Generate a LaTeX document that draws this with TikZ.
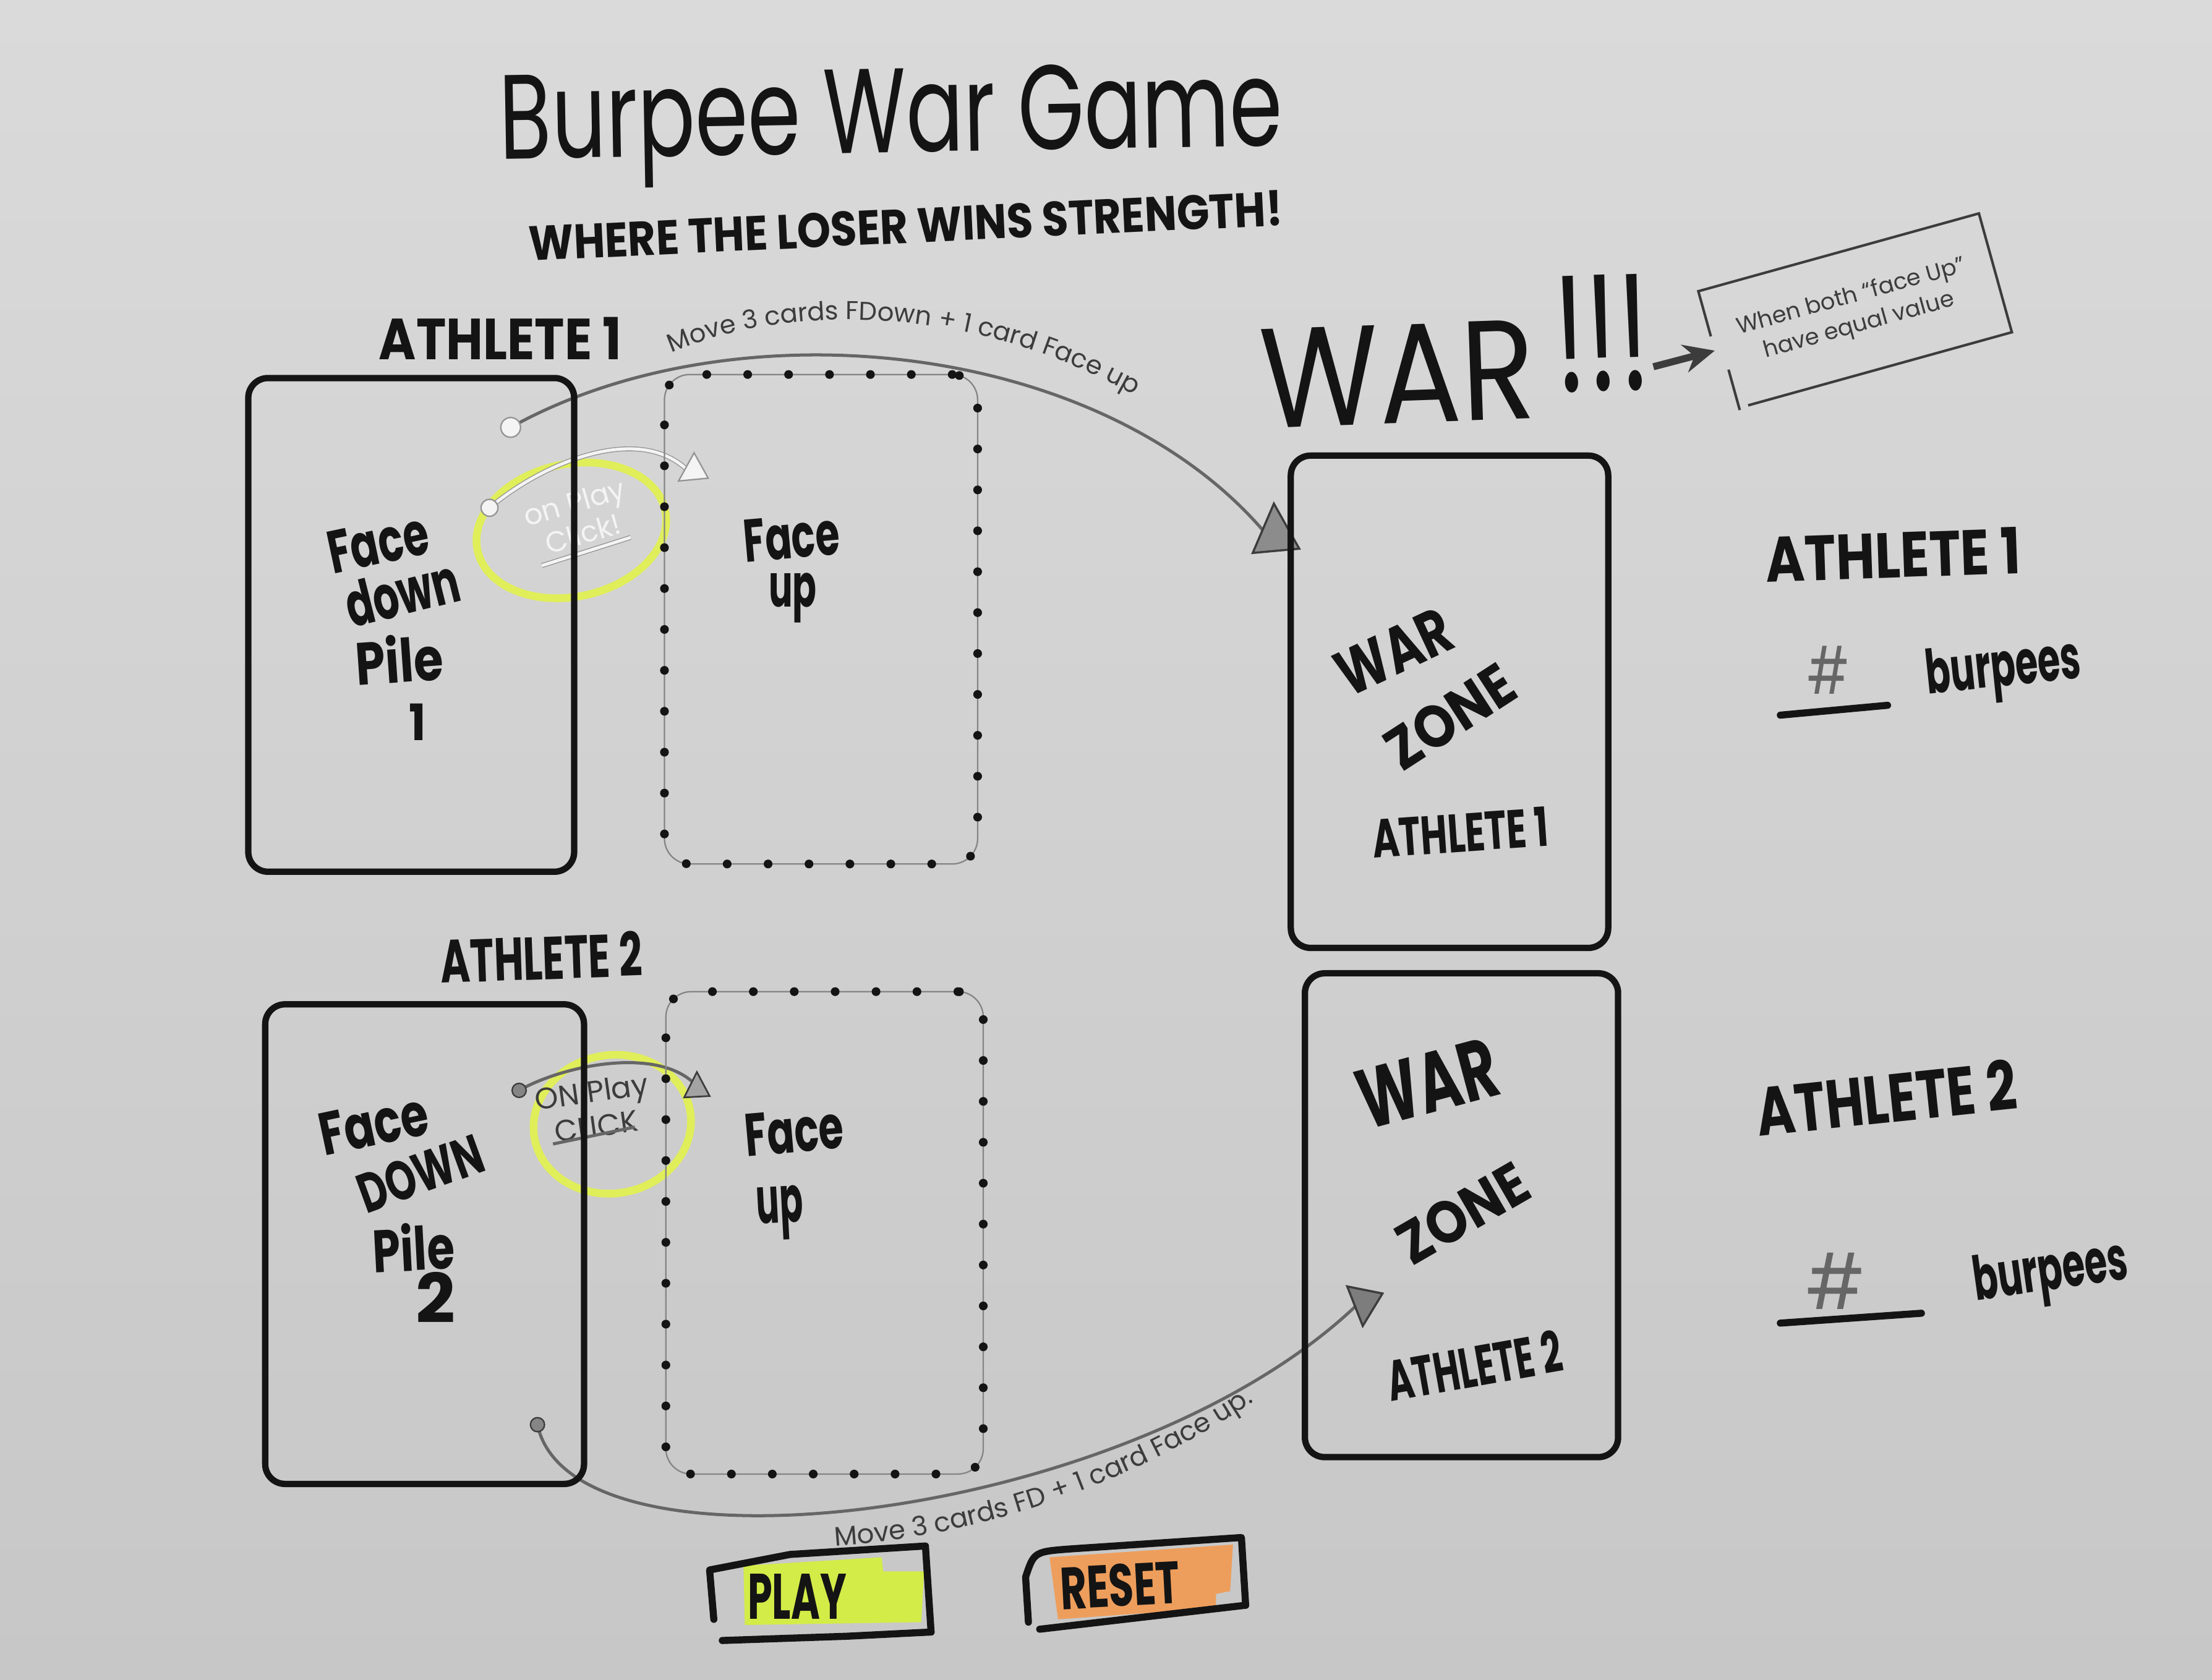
\documentclass[tikz,border=0pt]{standalone}
\usepackage{fontspec}
\setmainfont{Poppins}
\usepackage{graphicx}
\usetikzlibrary{calc,arrows.meta,shapes.geometric,decorations.text}

\newlength\pxu
\setlength\pxu{0.1mm}
% scale a piece of lettering to a given width and height (in board pixels)
\newcommand\fitto[3]{\resizebox{#1\pxu}{#2\pxu}{#3}}

\definecolor{boardtop}{HTML}{DADADA}
\definecolor{boardbot}{HTML}{C7C7C7}
\definecolor{ink}{HTML}{141414}
\definecolor{pencil}{HTML}{666666}
\definecolor{darkpencil}{HTML}{3C3C3C}
\definecolor{silver}{HTML}{F4F4F4}
\definecolor{hiyellow}{HTML}{E0EE5A}
\definecolor{playgreen}{HTML}{D4EC48}
\definecolor{resetorange}{HTML}{EE9E5C}

\begin{document}
\begin{tikzpicture}[x=0.1mm, y=-0.1mm,
  card/.style={draw=ink, line width=0.45mm, rounded corners=1.4mm, inner sep=0pt},
  dotcard/.style={draw=pencil!80, line width=0.1mm, rounded corners=1.8mm, inner sep=0pt,
    postaction={draw=ink, line width=0.62mm, dash pattern=on 0pt off 2.9mm, line cap=round}},
  marker/.style={text=ink, inner sep=0pt, font=\bfseries},
  thinmarker/.style={text=ink, inner sep=0pt},
  penciltext/.style={text=darkpencil, inner sep=0pt},
  pencilline/.style={draw=pencil, line width=0.22mm},
  silverline/.style={draw=pencil!70, double=silver, double distance=0.22mm, line width=0.06mm},
  hilite/.style={draw=hiyellow, line width=0.55mm, ellipse, inner sep=0pt},
  underline/.style={draw=ink, line width=0.5mm, line cap=round},
  btnline/.style={draw=ink, line width=0.5mm, line cap=round, line join=round},
]
\useasboundingbox (0,0) rectangle (1568,1191);
\shade[top color=boardtop, bottom color=boardbot] (0,0) rectangle (1568,1191);

% ---------- title ----------
\node[thinmarker, anchor=base, rotate=1] (title) at (632,108) {\fitto{555}{60}{Burpee War Game}};
\node[marker, rotate=2.7] (subtitle) at (642,160) {\fitto{535}{25}{WHERE THE LOSER WINS STRENGTH!}};

% ---------- pencil connectors ----------
\coordinate (a1s) at (362,303);
\coordinate (a1e) at (897,378);
\draw[pencilline] (a1s) .. controls (520,215) and (780,240) .. (a1e);
\path[decorate, decoration={text along path, text align=left,
  text={|\fontsize{5.2pt}{6pt}\selectfont\color{darkpencil}|Move 3 cards FDown + 1 card Face up}}]
  (476,250) .. controls (560,214) and (700,214) .. (820,290);
\filldraw[fill=pencil!75, draw=darkpencil, line width=0.15mm] (888,392) -- (903,357) -- (921,389) -- cycle;
\filldraw[fill=silver, draw=pencil!70, line width=0.1mm] (a1s) circle (7);

\coordinate (a2s) at (381,1010);
\coordinate (a2e) at (962,925);
\draw[pencilline] (a2s) .. controls (405,1125) and (800,1080) .. (a2e);
\path[decorate, decoration={text along path, text align=left,
  text={|\fontsize{5.4pt}{6pt}\selectfont\color{darkpencil}|Move  3  cards  FD + 1 card  Face up.}}]
  (592,1096) .. controls (720,1088) and (850,1032) .. (940,955);
\filldraw[fill=pencil!85, draw=darkpencil, line width=0.15mm] (955,912) -- (980,917) -- (966,940) -- cycle;
\filldraw[fill=pencil!80, draw=darkpencil, line width=0.1mm] (a2s) circle (5);

% ---------- highlighter rings ----------
\node[hilite, minimum width=13.6mm, minimum height=9.4mm, rotate=12] (ring1) at (405,376) {};
\node[hilite, minimum width=11.2mm, minimum height=9.8mm, rotate=10] (ring2) at (434,797) {};

% silver "on play click" note inside ring 1
\coordinate (e1s) at (347,360);
\coordinate (e1e) at (487,333);
\draw[silverline] (e1s) .. controls (385,328) and (452,300) .. (e1e);
\filldraw[fill=silver, draw=pencil!70, line width=0.1mm] (e1s) circle (6);
\filldraw[fill=silver, draw=pencil!70, line width=0.1mm] (481,341) -- (492,321) -- (502,339) -- cycle;
\node[text=silver, inner sep=0pt, rotate=16, align=center, font=\fontsize{5.8pt}{6.6pt}\selectfont] (click1) at (410,367) {on Play\\Click!};
\draw[silverline] (384,401) -- (447,381);

% pencil "on play click" note inside ring 2
\coordinate (e2s) at (368,773);
\coordinate (e2e) at (492,768);
\draw[pencilline] (e2s) .. controls (400,755) and (465,742) .. (e2e);
\filldraw[fill=pencil!80, draw=darkpencil, line width=0.1mm] (e2s) circle (5);
\filldraw[fill=pencil!60, draw=darkpencil, line width=0.12mm] (485,778) -- (494,760) -- (503,777) -- cycle;
\node[penciltext, rotate=8, align=center, font=\fontsize{6pt}{7pt}\selectfont] (click2) at (421,786) {ON Play\\CLICK};
\draw[pencilline] (392,811) -- (450,799);

% ---------- cards ----------
\node[card, minimum width=23.1mm, minimum height=35mm] (pile1) at (291.5,443) {};
\node[dotcard, minimum width=22.2mm, minimum height=34.7mm] (up1) at (582,439) {};
\node[card, minimum width=22.5mm, minimum height=34.9mm] (zone1) at (1027.5,497.5) {};
\node[card, minimum width=22.6mm, minimum height=34mm] (pile2) at (301,882) {};
\node[dotcard, minimum width=22.5mm, minimum height=34.2mm] (up2) at (584.5,874) {};
\node[card, minimum width=22.2mm, minimum height=34.3mm] (zone2) at (1036,861.5) {};

% card lettering, athlete 1
\node[marker, rotate=12] (p1a) at (268,385) {\fitto{72}{30}{Face}};
\node[marker, rotate=14] (p1b) at (285,420) {\fitto{82}{32}{down}};
\node[marker, rotate=4] (p1c) at (283,467) {\fitto{62}{34}{Pile}};
\node[marker] (p1d) at (296,512) {\fitto{12}{26}{1}};
\node[marker, rotate=5] (u1a) at (561,381) {\fitto{68}{30}{Face}};
\node[marker] (u1b) at (562,424) {\fitto{34}{24}{up}};
\node[marker, rotate=25] (z1a) at (988,462) {\fitto{85}{32}{WAR}};
\node[marker, rotate=33] (z1b) at (1028,508) {\fitto{100}{30}{ZONE}};
\node[marker, rotate=4] (z1c) at (1035,590) {\fitto{125}{28}{ATHLETE 1}};

% card lettering, athlete 2
\node[marker, rotate=12] (p2a) at (265,797) {\fitto{78}{30}{Face}};
\node[marker, rotate=20] (p2b) at (298,832) {\fitto{92}{28}{DOWN}};
\node[marker, rotate=3] (p2c) at (293,884) {\fitto{58}{34}{Pile}};
\node[marker] (p2d) at (309,920) {\fitto{28}{36}{2}};
\node[marker, rotate=5] (u2a) at (563,802) {\fitto{70}{30}{Face}};
\node[marker, rotate=3] (u2b) at (553,860) {\fitto{33}{26}{up}};
\node[marker, rotate=15] (z2a) at (1012,768) {\fitto{100}{42}{WAR}};
\node[marker, rotate=30] (z2b) at (1037,860) {\fitto{100}{30}{ZONE}};
\node[marker, rotate=10] (z2c) at (1045,968) {\fitto{125}{30}{ATHLETE 2}};

% ---------- player labels ----------
\node[marker, anchor=base west] (ath1) at (268,255) {\fitto{172}{30}{ATHLETE 1}};
\node[marker, anchor=base west, rotate=2] (ath2) at (312,697) {\fitto{143}{32}{ATHLETE 2}};

% ---------- war call-out ----------
\node[thinmarker, anchor=base, rotate=2] (war) at (992,300) {\fitto{195}{70}{WAR}};
\node[thinmarker, anchor=base, rotate=2] (bang) at (1137,277) {\fitto{68}{82}{!!!}};
\node[penciltext, rotate=15.5, minimum width=20.5mm, minimum height=8.6mm, align=center,
  font=\fontsize{4.6pt}{6pt}\selectfont] (note) at (1315,221) {When both ``face Up''\\have equal value};
\draw[darkpencil, line width=0.18mm]
  ($(note.north west)!0.38!(note.south west)$) -- (note.north west) -- (note.north east)
  -- (note.south east) -- ($(note.south west)!0.06!(note.south east)$);
\draw[darkpencil, line width=0.18mm]
  ($(note.north west)!0.66!(note.south west)+(6,0)$) -- ($(note.south west)+(6,0)$);
\coordinate (warend) at (1172,260);
\draw[darkpencil, line width=0.5mm, -{Stealth[length=2.2mm, width=2mm]}] (warend) -- (note.west);

% ---------- scoreboard ----------
\node[marker, rotate=2] (score1) at (1342,393) {\fitto{181}{33}{ATHLETE 1}};
\node[text=pencil, inner sep=0pt] (hash1) at (1296,475) {\fitto{30}{34}{\#}};
\draw[underline] (1262,507) -- (1338,500);
\node[marker, anchor=base west, rotate=6] (burp1) at (1366,492) {\fitto{110}{32}{burpees}};

\node[marker, rotate=6] (score2) at (1337,778) {\fitto{185}{36}{ATHLETE 2}};
\node[text=pencil, inner sep=0pt] (hash2) at (1301,908) {\fitto{42}{40}{\#}};
\draw[underline] (1262,938) -- (1362,931);
\node[marker, anchor=base west, rotate=8] (burp2) at (1400,922) {\fitto{110}{32}{burpees}};

% ---------- buttons ----------
\fill[playgreen] (527,1110) -- (625,1104) -- (626,1114) -- (655,1114) -- (653,1150) -- (528,1152) -- cycle;
\draw[btnline] (506,1148) -- (503,1113) -- (560,1102) -- (656,1096) -- (660,1157);
\draw[btnline] (512,1163) -- (600,1160) -- (660,1157);
\node[marker] (play) at (565,1132) {\fitto{70}{32}{PLAY}};

\fill[resetorange] (744,1104) -- (874,1095) -- (872,1128) -- (862,1130) -- (862,1140) -- (750,1148) -- cycle;
\draw[btnline] (729,1150) -- (727,1118) .. controls (733,1100) .. (760,1098) -- (880,1090) -- (883,1138);
\draw[btnline] (737,1155) -- (883,1138);
\node[marker, rotate=3] (reset) at (794,1124) {\fitto{85}{30}{RESET}};
\end{tikzpicture}
\end{document}
